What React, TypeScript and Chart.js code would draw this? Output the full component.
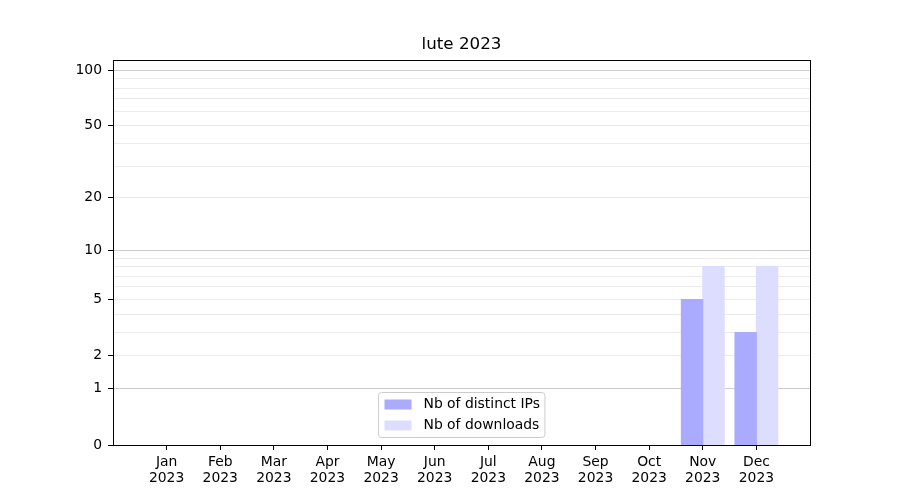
import React, { useEffect, useRef } from 'react';
import { Chart, registerables, LinearScale } from 'chart.js';

const TITLE = 'lute 2023';
const MONTHS = ['Jan', 'Feb', 'Mar', 'Apr', 'May', 'Jun', 'Jul', 'Aug', 'Sep', 'Oct', 'Nov', 'Dec'];
const YEAR = '2023';
const DISTINCT_IPS = [0, 0, 0, 0, 0, 0, 0, 0, 0, 0, 5, 3];
const DOWNLOADS = [0, 0, 0, 0, 0, 0, 0, 0, 0, 0, 8, 8];
const Y_TICKS = [0, 1, 2, 3, 4, 5, 6, 7, 8, 9, 10, 20, 30, 40, 50, 60, 70, 80, 90, 100];
const Y_LABELED = [0, 1, 2, 5, 10, 20, 50, 100];
const Y_MAJOR = [1, 10, 100];
const Y_MAX = 113.5;

const FONT = '"DejaVu Sans", sans-serif';
const FS = 13.9;

const tf = (v: number) => Math.log10(1 + Math.max(v, 0));

class Log1pScale extends LinearScale {
  static id = 'log1p';
  static defaults = { ...(LinearScale as any).defaults };
  buildTicks() {
    const self: any = this;
    return Y_TICKS.filter((v) => v >= self.min && v <= self.max).map((v) => ({ value: v }));
  }
  configure() {
    super.configure();
    const self: any = this;
    self._t0 = tf(self.min);
    self._tr = tf(self.max) - self._t0;
  }
  getPixelForValue(v: any) {
    const self: any = this;
    if (v == null || isNaN(v)) return NaN;
    return self.getPixelForDecimal((tf(v) - self._t0) / self._tr);
  }
  getValueForPixel(p: number) {
    const self: any = this;
    const d = self.getDecimalForPixel(p);
    return Math.pow(10, self._t0 + d * self._tr) - 1;
  }
}

Chart.register(...registerables, Log1pScale as any);

const framePlugin = {
  id: 'frame',
  afterDraw(chart: any) {
    const { ctx, chartArea } = chart;
    ctx.save();
    ctx.strokeStyle = '#000';
    ctx.lineWidth = 1;
    const l = Math.round(chartArea.left) + 0.5;
    const t = Math.round(chartArea.top) + 0.5;
    const r = Math.round(chartArea.right) + 0.5;
    const b = Math.round(chartArea.bottom) + 0.5;
    ctx.strokeRect(l, t, r - l, b - t);
    ctx.restore();
  },
};

const legendPlugin = {
  id: 'innerLegend',
  afterDraw(chart: any) {
    const { ctx, chartArea } = chart;
    ctx.save();
    ctx.font = `${FS}px ${FONT}`;
    const items = chart.data.datasets.map((ds: any) => ({ label: ds.label, color: ds.backgroundColor }));
    const textW = Math.max(...items.map((i: any) => ctx.measureText(i.label).width));
    const padL = 6, padR = 5, handleW = 27, handleH = 10, gap = 12;
    const w = padL + handleW + gap + textW + padR;
    const h = 45;
    const cx = (chartArea.left + chartArea.right) / 2;
    const left = Math.round(cx - w / 2) + 0.5;
    const top = Math.round(chartArea.bottom - 8 - h) + 0.5;
    ctx.beginPath();
    (ctx as any).roundRect(left, top, w, h, 3);
    ctx.fillStyle = 'rgba(255,255,255,0.8)';
    ctx.fill();
    ctx.strokeStyle = '#cccccc';
    ctx.lineWidth = 1;
    ctx.stroke();
    items.forEach((it: any, i: number) => {
      const cy = top + 12 + i * 21;
      ctx.fillStyle = it.color;
      ctx.fillRect(left + padL, cy - handleH / 2, handleW, handleH);
      ctx.fillStyle = '#000';
      ctx.textBaseline = 'middle';
      ctx.textAlign = 'left';
      ctx.fillText(it.label, left + padL + handleW + gap, cy);
    });
    ctx.restore();
  },
};

const inflate = (c: any) => (c.raw > 0 ? 0.5 : 0);

export default function App() {
  const ref = useRef<HTMLCanvasElement>(null);
  useEffect(() => {
    const labels: any[] = ['', ...MONTHS.map((m) => [m, YEAR]), ''];
    const last = labels.length - 1;
    const chart = new Chart(ref.current as HTMLCanvasElement, {
      type: 'bar',
      data: {
        labels,
        datasets: [
          {
            label: 'Nb of distinct IPs',
            data: [null, ...DISTINCT_IPS, null],
            backgroundColor: '#aaaaff',
            borderWidth: 0,
            inflateAmount: inflate,
            categoryPercentage: 0.8,
            barPercentage: 1,
          },
          {
            label: 'Nb of downloads',
            data: [null, ...DOWNLOADS, null],
            backgroundColor: '#ddddff',
            borderWidth: 0,
            inflateAmount: inflate,
            categoryPercentage: 0.8,
            barPercentage: 1,
          },
        ],
      },
      options: {
        responsive: false,
        animation: false,
        devicePixelRatio: 1,
        layout: { padding: { left: 0, right: 90, top: 0, bottom: 0 } },
        plugins: {
          legend: { display: false },
          tooltip: { enabled: false },
          title: {
            display: true,
            text: TITLE,
            color: '#000',
            fullSize: false,
            font: { family: FONT, size: 16.7, weight: 'normal', lineHeight: 1.2 },
            padding: { top: 35, bottom: 5 },
          },
        },
        scales: {
          x: {
            type: 'category',
            offset: false,
            grid: {
              offset: false,
              drawOnChartArea: false,
              drawTicks: true,
              tickLength: 5,
              tickColor: (c: any) => (c.index === 0 || c.index === last ? 'rgba(0,0,0,0)' : '#000'),
            },
            border: { color: '#000', width: 1 },
            ticks: {
              autoSkip: false,
              maxRotation: 0,
              minRotation: 0,
              padding: 4,
              color: '#000',
              font: { family: FONT, size: FS, lineHeight: 1.15 },
            },
            afterFit: (s: any) => {
              s.height = 55;
            },
          },
          y: {
            type: 'log1p' as any,
            min: 0,
            max: Y_MAX,
            grid: {
              drawTicks: true,
              tickLength: 5,
              color: (c: any) => {
                const v = c.tick ? c.tick.value : null;
                if (v === 0) return 'rgba(0,0,0,0)';
                return Y_MAJOR.includes(v) ? '#cccccc' : '#ebebeb';
              },
              tickColor: (c: any) => {
                const v = c.tick ? c.tick.value : null;
                return Y_LABELED.includes(v) ? '#000' : 'rgba(0,0,0,0)';
              },
            },
            border: { color: '#000', width: 1 },
            ticks: {
              autoSkip: false,
              padding: 6,
              color: '#000',
              font: { family: FONT, size: FS },
              callback: (v: any) => (Y_LABELED.includes(v) ? String(v) : ''),
            },
            afterFit: (s: any) => {
              s.width = 113;
            },
          } as any,
        },
      },
      plugins: [framePlugin, legendPlugin],
    } as any);
    return () => chart.destroy();
  }, []);
  return (
    <div style={{ position: 'absolute', left: 0, top: 0, width: 900, height: 500 }}>
      <canvas ref={ref} width={900} height={500} style={{ display: 'block' }} />
    </div>
  );
}
